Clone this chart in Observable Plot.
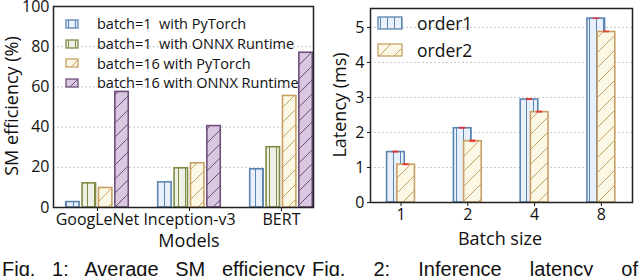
<!DOCTYPE html>
<html>
<head>
<meta charset="utf-8">
<script src="https://cdn.jsdelivr.net/npm/d3@7"></script>
<script src="https://cdn.jsdelivr.net/npm/@observablehq/plot@0.6"></script>
<style>
  html, body { margin: 0; padding: 0; background: white; }
  #wrap { position: relative; width: 640px; height: 276px; overflow: hidden; background: white; font-family: "Open Sans", sans-serif; }
  .panel { position: absolute; top: 0; }
  .legend { position: absolute; color: #111; font-family: "Open Sans", sans-serif; white-space: pre; }
  .legend .row { position: absolute; left: 0; display: flex; align-items: center; }
  .legend svg { display: block; }
  .title { position: absolute; font-family: "Open Sans", sans-serif; font-size: 18px; color: #111; white-space: nowrap; transform: translate(-50%, -50%); line-height: 1; }
  .title.rot { transform: translate(-50%, -50%) rotate(-90deg); }
  .caption { position: absolute; top: 259px; font-family: "Liberation Sans", Arial, sans-serif; font-size: 20px; line-height: 1; color: #111; text-align: justify; text-align-last: justify; white-space: nowrap; }
</style>
</head>
<body>
<svg width="0" height="0" style="position:absolute">
  <defs>
    <pattern id="pat-blue" patternUnits="userSpaceOnUse" width="7" height="7">
      <rect width="7" height="7" fill="#e8f1fb"/>
      <line x1="3.5" y1="0" x2="3.5" y2="7" stroke="#5b84b1" stroke-width="1"/>
    </pattern>
    <pattern id="pat-green" patternUnits="userSpaceOnUse" width="7" height="7">
      <rect width="7" height="7" fill="#eef2e6"/>
      <line x1="3.5" y1="0" x2="3.5" y2="7" stroke="#7e8c46" stroke-width="1"/>
    </pattern>
    <pattern id="pat-orange" patternUnits="userSpaceOnUse" width="15" height="15">
      <rect width="15" height="15" fill="#fcf8e6"/>
      <path d="M0,15 L15,0 M-4,4 L4,-4 M11,19 L19,11" stroke="#c9a064" stroke-width="1"/>
    </pattern>
    <pattern id="pat-purple" patternUnits="userSpaceOnUse" width="14" height="14">
      <rect width="14" height="14" fill="#d8c7df"/>
      <path d="M0,14 L14,0 M-4,4 L4,-4 M10,18 L18,10" stroke="#6e4f7d" stroke-width="1"/>
    </pattern>
  </defs>
</svg>
<div id="wrap">
  <div id="left" class="panel" style="left:0"></div>
  <div id="right" class="panel" style="left:320px"></div>
  <div id="legL" class="legend" style="left:65px; top:14px; font-size:14.5px;"></div>
  <div id="legR" class="legend" style="left:377px; top:9px; font-size:17.5px;"></div>
  <div class="title rot" style="left:11px; top:106px;">SM efficiency (%)</div>
  <div class="title rot" style="left:339px; top:105px;">Latency (ms)</div>
  <div class="title" style="left:189px; top:240px;">Models</div>
  <div class="title" style="left:500px; top:238px;">Batch size</div>
  <div class="caption" style="left:2px; width:303px;">Fig. 1: Average SM efficiency</div>
  <div class="caption" style="left:312px; width:326px;">Fig. 2: Inference latency of</div>
</div>
<script>
// ---------- data: left chart (SM efficiency, %) ----------
const models = ["GoogLeNet", "Inception-v3", "BERT"];
const effSeries = ["batch=1\u00a0\u00a0with PyTorch", "batch=1\u00a0\u00a0with ONNX Runtime", "batch=16 with PyTorch", "batch=16 with ONNX Runtime"];
const effB1PyTorch = [2.7, 12.5, 19];
const effB1Onnx = [12, 19.5, 30];
const effB16PyTorch = [9.7, 22, 55.5];
const effB16Onnx = [57.5, 40.5, 77];
const effTicks = [0, 20, 40, 60, 80, 100];

// ---------- data: right chart (latency, ms) ----------
const batchSizes = ["1", "2", "4", "8"];
const latSeries = ["order1", "order2"];
const latOrder1 = [1.44, 2.12, 2.94, 5.25];
const latOrder2 = [1.08, 1.75, 2.58, 4.87];
const errOrder1 = [0.03, 0.03, 0.03, 0.025];
const errOrder2 = [0.03, 0.035, 0.03, 0.025];
const latTicks = [0, 1, 2, 3, 4, 5];

// ---------- styles ----------
const effStyles = [
  {fill: "url(#pat-blue)", stroke: "#5b84b1"},
  {fill: "url(#pat-green)", stroke: "#7e8c46"},
  {fill: "url(#pat-orange)", stroke: "#c9a064"},
  {fill: "url(#pat-purple)", stroke: "#6e4f7d"}
];
const latStyles = [effStyles[0], effStyles[2]];

const effValues = [effB1PyTorch, effB1Onnx, effB16PyTorch, effB16Onnx];
const latValues = [latOrder1, latOrder2];
const latErrors = [errOrder1, errOrder2];

const effRows = effValues.map((vals, s) => vals.map((v, g) => ({group: g, series: s, value: v})));
const latRows = latValues.map((vals, s) => vals.map((v, g) => ({group: g, series: s, value: v, err: latErrors[s][g]})));

const effStep = 0.178, effHalf = 0.073;
const latStep = 0.153, latHalf = 0.132, errHalf = 0.045;

const baseStyle = {fontFamily: "Open Sans, sans-serif", fontSize: "16px", color: "#111", background: "white", overflow: "visible"};

const left = Plot.plot({
  width: 320, height: 250,
  marginLeft: 53, marginRight: 7, marginTop: 6, marginBottom: 43,
  style: baseStyle,
  x: {domain: [-0.478, 2.348], ticks: [0, 1, 2], tickFormat: i => models[i], tickSize: 4, tickPadding: 2, label: null},
  y: {domain: [0, 100], ticks: effTicks, tickFormat: d3.format("d"), tickSize: 0, tickPadding: 4, label: null},
  marks: [
    Plot.ruleY(effTicks.slice(1, -1), {stroke: "#c8c8c8", strokeDasharray: "2,2", strokeWidth: 1}),
    ...effRows.map((rows, s) => Plot.rectY(rows, {
      x1: d => d.group + (d.series - 1.5) * effStep - effHalf,
      x2: d => d.group + (d.series - 1.5) * effStep + effHalf,
      y1: 0, y2: "value",
      fill: effStyles[s].fill, stroke: effStyles[s].stroke, strokeWidth: 1.6
    })),
    Plot.frame({stroke: "#222", strokeWidth: 1.5})
  ]
});
document.getElementById("left").append(left);

const right = Plot.plot({
  width: 320, height: 250,
  marginLeft: 50, marginRight: 8, marginTop: 8, marginBottom: 48,
  style: baseStyle,
  x: {domain: [-0.457, 3.466], ticks: [0, 1, 2, 3], tickFormat: i => batchSizes[i], tickSize: 4, tickPadding: 2, label: null},
  y: {domain: [0, 5.54], ticks: latTicks, tickFormat: d3.format("d"), tickSize: 3, tickPadding: 3, label: null},
  marks: [
    Plot.ruleY(latTicks.slice(1), {stroke: "#c8c8c8", strokeDasharray: "2,2", strokeWidth: 1}),
    ...latRows.map((rows, s) => Plot.rectY(rows, {
      x1: d => d.group + (d.series - 0.5) * latStep - latHalf,
      x2: d => d.group + (d.series - 0.5) * latStep + latHalf,
      y1: 0, y2: "value",
      fill: latStyles[s].fill, stroke: latStyles[s].stroke, strokeWidth: 1.6
    })),
    ...latRows.map(rows => Plot.rect(rows, {
      x1: d => d.group + (d.series - 0.5) * latStep - errHalf,
      x2: d => d.group + (d.series - 0.5) * latStep + errHalf,
      y1: d => d.value - d.err, y2: d => d.value + d.err,
      fill: "#f02828", fillOpacity: 0.8
    })),
    Plot.frame({stroke: "#222", strokeWidth: 1.5})
  ]
});
document.getElementById("right").append(right);

// ---------- legends ----------
function swatch(style, w, h) {
  const ns = "http://www.w3.org/2000/svg";
  const svg = document.createElementNS(ns, "svg");
  svg.setAttribute("width", w + 2); svg.setAttribute("height", h + 2);
  const r = document.createElementNS(ns, "rect");
  r.setAttribute("x", 1); r.setAttribute("y", 1);
  r.setAttribute("width", w); r.setAttribute("height", h);
  r.setAttribute("fill", style.fill); r.setAttribute("stroke", style.stroke); r.setAttribute("stroke-width", 1.3);
  svg.append(r);
  return svg;
}
function buildLegend(el, labels, styles, w, h, gap, rowH) {
  labels.forEach((lab, i) => {
    const row = document.createElement("div");
    row.className = "row";
    row.style.top = (i * rowH) + "px";
    row.style.height = rowH + "px";
    row.append(swatch(styles[i], w, h));
    const t = document.createElement("span");
    t.textContent = lab;
    t.style.marginLeft = gap + "px";
    row.append(t);
    el.append(row);
  });
}
buildLegend(document.getElementById("legL"), effSeries, effStyles, 12, 8, 18, 19.7);
buildLegend(document.getElementById("legR"), latSeries, latStyles, 24, 12, 14, 27);
</script>
</body>
</html>
